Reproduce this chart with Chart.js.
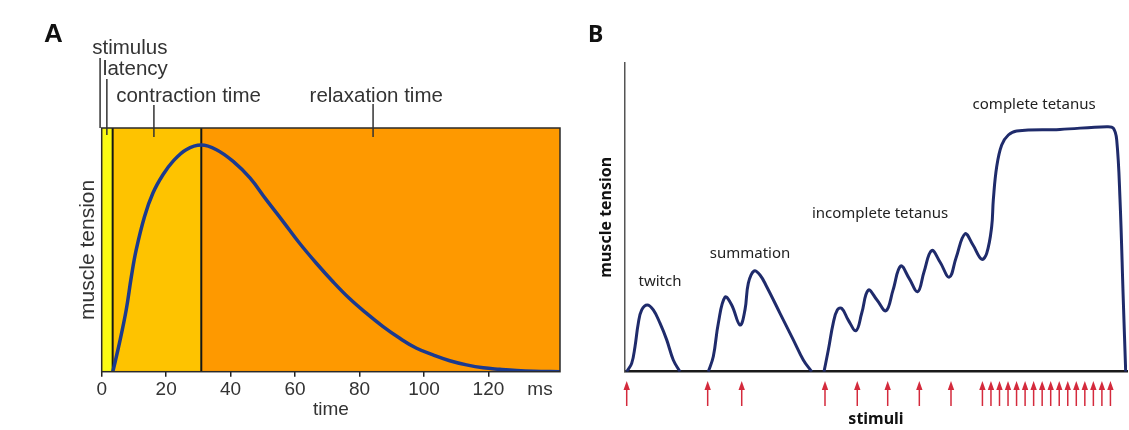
<!DOCTYPE html>
<html>
<head>
<meta charset="utf-8">
<title>Muscle twitch and tetanus</title>
<script src="https://cdn.jsdelivr.net/npm/chart.js@4.4.0/dist/chart.umd.min.js"></script>
<style>
  body { margin: 0; background: #fff; width: 1129px; height: 430px; overflow: hidden; position: relative; }
  canvas { position: absolute; top: 0; }
  #chartA { left: 0; }
  #chartB { left: 580px; }
</style>
</head>
<body>
<canvas id="chartA" width="580" height="430"></canvas>
<canvas id="chartB" width="549" height="430"></canvas>
<script>
// ---- panel A : single twitch (time in ms, tension 0..1) ----
var timeMs = [3.45, 5.5, 7.6, 9.2, 10.7, 13.3, 15.9, 19.0, 22.1, 26.2, 30.9,
              35.6, 40.8, 46.0, 51.1, 56.3, 61.4, 66.6, 71.7, 76.9, 82.1,
              87.3, 92.5, 97.7, 102.8, 108.0, 113.2, 118.4, 123.5, 128.7, 134.0, 142.2];
var tensionA = [0, 0.117, 0.253, 0.39, 0.50, 0.637, 0.733, 0.808, 0.863, 0.911, 0.93,
                0.911, 0.863, 0.795, 0.705, 0.616, 0.527, 0.445, 0.37, 0.30, 0.24,
                0.185, 0.137, 0.096, 0.069, 0.045, 0.028, 0.016, 0.01, 0.005, 0.002, 0];
var tickMs = [0, 20, 40, 60, 80, 100, 120];
var unitTickAt = 136;            // where the "ms" unit label sits
var phaseEdges = [0, 3.4, 30.9, 142.2];   // stimulus | contraction | relaxation
var phaseNames = ['stimulus', 'latency', 'contraction time', 'relaxation time'];
var phaseLeaderAt = [-0.5, 1.6, 16.2, 84.2];
var phaseTextAt = [-2.95, 0.35, 4.5, 64.5];

// ---- panel B : summation and tetanus (arbitrary units 0..100) ----
var timeB = [0.34, 1.33, 1.99, 2.65, 3.33, 4.44, 5.64, 6.97, 8.31, 9.62, 10.96,
             13.8,
             16.59, 17.59, 18.59, 19.92, 21.25, 22.91, 23.90, 24.56, 25.70, 26.89, 28.23, 30.88, 33.53, 35.52, 37.19,
             38.4,
             39.64, 40.5, 41.49, 42.29, 43.17, 44.48, 46.02, 47.15, 48.47, 50.20, 51.99, 53.39, 54.92,
             56.57, 58.31, 59.56, 61.10, 62.75, 64.60, 65.94, 67.73, 69.32, 71.06,
             72.05, 73.04, 73.37, 74.04, 75.04, 76.36, 78.03, 86.65, 95.96, 97.27, 97.95, 98.61, 99.26, 99.74];
var tensionB = [0, 2.7, 8.1, 15.7, 20.0, 21.6, 20.0, 15.7, 10.3, 3.8, 0,
                null,
                0, 4.9, 15.7, 24.1, 21.6, 15.1, 20.0, 28.6, 32.6, 31.3, 27.5, 18.9, 10.3, 3.8, 0,
                null,
                0, 7.0, 15.8, 20.0, 20.5, 16.7, 13.3, 18.9, 26.4, 23.2, 19.7, 26.4, 34.2,
                30.3, 25.9, 32.3, 39.2, 35.5, 30.6, 36.8, 44.6, 41.0, 36.4,
                38.3, 46.9, 55.6, 66.3, 73.4, 76.6, 77.9, 78.4, 79.3, 78.8, 75.0, 55.6, 23.2, 0];
var stimuliAt = [0.34, 16.47, 23.25, 39.84, 46.27, 52.33, 58.63, 64.94,
                 71.2, 72.9, 74.6, 76.3, 78.0, 79.7, 81.4, 83.1, 84.8, 86.5, 88.2, 89.9, 91.6, 93.3, 95.0, 96.7];
var responseNames = ['twitch', 'summation', 'incomplete tetanus', 'complete tetanus'];
var responseLabelX = [6.97, 24.9, 50.8, 81.5];
var responseLabelY = [29.0, 38.1, 51.0, 86.3];

var sansA = '"Liberation Sans", Arial, sans-serif';
var sansB = '"Noto Sans", "Open Sans", sans-serif';

var phasePlugin = {
  id: 'phases',
  beforeDatasetsDraw: function(chart) {
    var ctx = chart.ctx, a = chart.chartArea, x = chart.scales.x;
    var colors = ['#fafa12', '#fec300', '#fe9900'];
    ctx.save();
    for (var i = 0; i < 3; i++) {
      var l = x.getPixelForValue(phaseEdges[i]);
      var r = x.getPixelForValue(phaseEdges[i + 1]);
      ctx.fillStyle = colors[i];
      ctx.fillRect(l, a.top, r - l, a.bottom - a.top);
    }
    ctx.strokeStyle = '#151515';
    ctx.lineWidth = 2;
    [phaseEdges[1], phaseEdges[2]].forEach(function(v) {
      var px = x.getPixelForValue(v);
      ctx.beginPath();
      ctx.moveTo(px, a.top);
      ctx.lineTo(px, a.bottom);
      ctx.stroke();
    });
    ctx.restore();
  },
  afterDatasetsDraw: function(chart) {
    var ctx = chart.ctx, a = chart.chartArea;
    ctx.save();
    ctx.strokeStyle = '#2a2a2a';
    ctx.lineWidth = 1.5;
    ctx.strokeRect(a.left, a.top, a.right - a.left, a.bottom - a.top);
    ctx.restore();
  },
  afterDraw: function(chart) {
    var ctx = chart.ctx, a = chart.chartArea, x = chart.scales.x;
    var baselines = [54, 75, 101.5, 101.5];
    var leaderTop = [58, 79, 105, 104];
    var leaderBottom = [a.top, 135, 137, 137];
    ctx.save();
    ctx.fillStyle = '#333';
    ctx.strokeStyle = '#333';
    ctx.lineWidth = 1.5;
    ctx.font = '20.5px ' + sansA;
    ctx.textBaseline = 'alphabetic';
    for (var i = 0; i < phaseNames.length; i++) {
      ctx.fillText(phaseNames[i], x.getPixelForValue(phaseTextAt[i]), baselines[i]);
      var px = x.getPixelForValue(phaseLeaderAt[i]);
      ctx.beginPath();
      ctx.moveTo(px, leaderTop[i]);
      ctx.lineTo(px, leaderBottom[i]);
      ctx.stroke();
    }
    ctx.fillStyle = '#111';
    ctx.font = 'bold 26px ' + sansA;
    ctx.fillText('A', 44, 42);
    ctx.restore();
  }
};

var stimuliPlugin = {
  id: 'stimuli',
  afterDraw: function(chart) {
    var ctx = chart.ctx, x = chart.scales.x, y = chart.scales.y;
    ctx.save();
    // stimulus arrows under the axis
    ctx.fillStyle = '#d42a3c';
    ctx.strokeStyle = '#d42a3c';
    ctx.lineWidth = 1.5;
    stimuliAt.forEach(function(v) {
      var px = x.getPixelForValue(v);
      ctx.beginPath();
      ctx.moveTo(px, 381);
      ctx.lineTo(px + 3.2, 390);
      ctx.lineTo(px - 3.2, 390);
      ctx.closePath();
      ctx.fill();
      ctx.beginPath();
      ctx.moveTo(px, 389);
      ctx.lineTo(px, 406);
      ctx.stroke();
    });
    // response labels
    ctx.fillStyle = '#222';
    ctx.font = '15px ' + sansB;
    ctx.textAlign = 'center';
    ctx.textBaseline = 'middle';
    for (var i = 0; i < responseNames.length; i++) {
      ctx.fillText(responseNames[i], x.getPixelForValue(responseLabelX[i]), y.getPixelForValue(responseLabelY[i]));
    }
    ctx.textAlign = 'left';
    ctx.textBaseline = 'alphabetic';
    ctx.fillStyle = '#111';
    ctx.font = 'bold 23px ' + sansB;
    ctx.fillText('B', 8, 42);
    ctx.restore();
  }
};

new Chart(document.getElementById('chartA'), {
  type: 'line',
  data: {
    datasets: [{
      data: timeMs.map(function(t, i) { return {x: t, y: tensionA[i]}; }),
      borderColor: '#1b3a8f',
      borderWidth: 3.5,
      pointRadius: 0,
      tension: 0.4,
      fill: false
    }]
  },
  options: {
    responsive: false,
    animation: false,
    events: [],
    layout: { padding: { top: 128, right: 20, left: 0, bottom: 0 } },
    plugins: { legend: { display: false }, tooltip: { enabled: false } },
    scales: {
      x: {
        type: 'linear',
        min: phaseEdges[0],
        max: phaseEdges[3],
        afterFit: function(s) { s.height = 58.3; },
        afterBuildTicks: function(s) {
          s.ticks = tickMs.concat([unitTickAt]).map(function(v) { return {value: v}; });
        },
        ticks: {
          autoSkip: false,
          maxRotation: 0,
          padding: 2,
          color: '#333',
          font: { family: sansA, size: 19 },
          callback: function(v) { return v === unitTickAt ? 'ms' : v; }
        },
        grid: {
          drawOnChartArea: false,
          tickLength: 5,
          lineWidth: 1.5,
          color: function(c) { return c.tick && c.tick.value === unitTickAt ? 'rgba(0,0,0,0)' : '#222'; }
        },
        border: { display: false },
        title: { display: true, text: 'time', color: '#333', font: { family: sansA, size: 19 }, padding: { top: 0, bottom: 9 } }
      },
      y: {
        min: 0,
        max: 1,
        afterFit: function(s) { s.width = 101.7; },
        ticks: { display: false },
        grid: { display: false },
        border: { display: false },
        title: { display: true, text: 'muscle tension', color: '#333', font: { family: sansA, size: 21 }, padding: { top: 76, bottom: 0 } }
      }
    }
  },
  plugins: [phasePlugin]
});

new Chart(document.getElementById('chartB'), {
  type: 'line',
  data: {
    datasets: [{
      data: timeB.map(function(t, i) { return {x: t, y: tensionB[i]}; }),
      borderColor: '#1f2b6b',
      borderWidth: 3,
      pointRadius: 0,
      tension: 0.4,
      spanGaps: false,
      fill: false
    }]
  },
  options: {
    responsive: false,
    animation: false,
    events: [],
    layout: { padding: { top: 62.7, right: 2, left: 0, bottom: 0 } },
    plugins: { legend: { display: false }, tooltip: { enabled: false } },
    scales: {
      x: {
        type: 'linear',
        min: 0,
        max: 100,
        afterFit: function(s) { s.height = 58.3; },
        ticks: { display: false },
        grid: { display: false },
        border: { display: true, color: '#1a1a1a', width: 2.5 },
        title: { display: true, text: 'stimuli', color: '#111', font: { family: sansB, size: 16, weight: 'bold' }, padding: { top: 0, bottom: 1 } }
      },
      y: {
        min: 0,
        max: 100,
        afterFit: function(s) { s.width = 45; },
        ticks: { display: false },
        grid: { display: false },
        border: { display: true, color: '#555', width: 1.5 },
        title: { display: true, text: 'muscle tension', color: '#111', font: { family: sansB, size: 16, weight: 'bold' }, padding: { top: 17, bottom: 0 } }
      }
    }
  },
  plugins: [stimuliPlugin]
});
</script>
</body>
</html>
